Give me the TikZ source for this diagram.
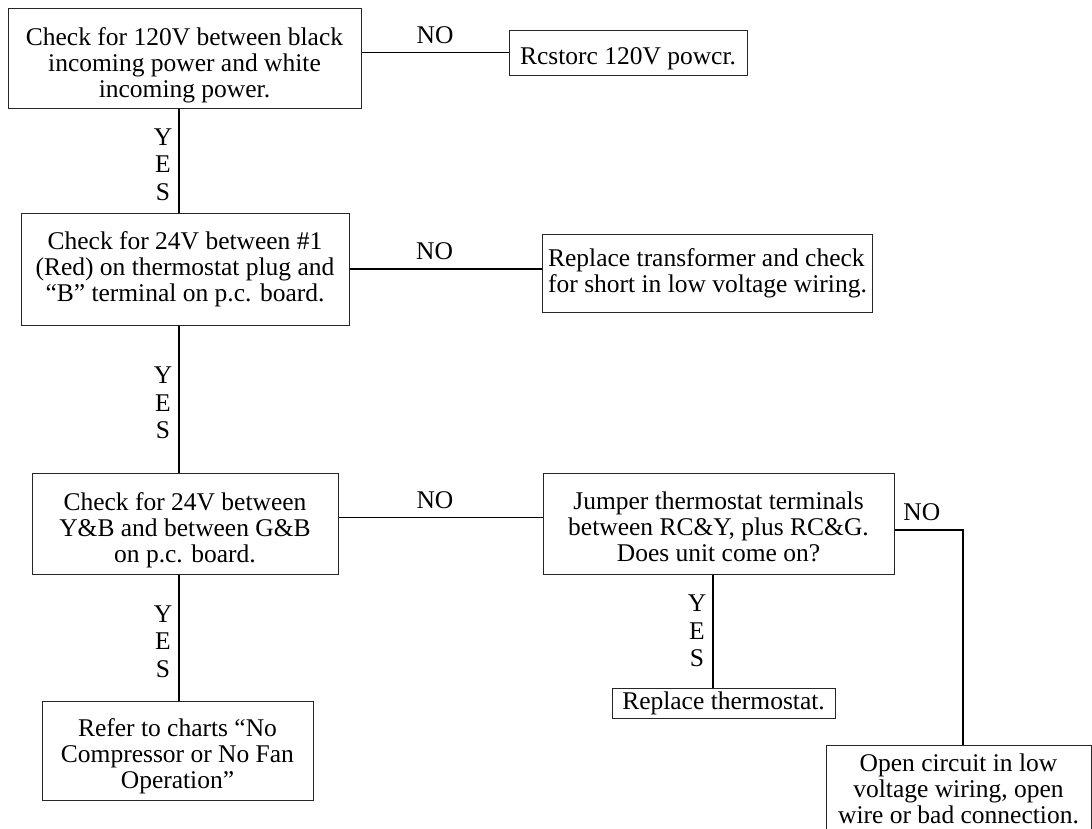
\documentclass[tikz,border=0pt]{standalone}
\usepackage{fontspec}
\setmainfont{Liberation Serif}
\usetikzlibrary{positioning,calc}

\newcommand{\dropline}[1]{\rule{0pt}{#1}}
\tikzset{
  box/.style={draw=black!85, line width=1pt, inner sep=0pt, align=center,
    font=\fontsize{25.5}{26}\selectfont},
  link/.style={line width=1.6pt},
  answer/.style={inner sep=0pt, font=\fontsize{25.5}{26}\selectfont},
  yes/.style={answer, align=center, anchor=east, xshift=-6pt,
    font=\fontsize{25.5}{27.5}\selectfont},
  no/.style={answer, anchor=south, yshift=8pt}
}

\begin{document}
\begin{tikzpicture}[x=1pt,y=-1pt]
  \useasboundingbox (0,0) rectangle (1092,828);
  \coordinate (spine) at (179,0);
  % left column of checks
  \node[box, minimum width=353pt, minimum height=100pt] (check120) at (184.5,58)
    {\dropline{33pt}Check for 120V between black\\incoming power and white\\incoming power.};
  \node[box, minimum width=328pt, minimum height=112pt] (check24a) at (185,269)
    {Check for 24V between \#1\\(Red) on thermostat plug and\\“B” terminal on p.c. board.};
  \node[box, minimum width=306pt, minimum height=101pt] (check24b) at (185,523.5)
    {\dropline{31pt}Check for 24V between\\Y\&B and between G\&B\\on p.c. board.};
  \node[box, minimum width=271pt, minimum height=99pt] (refer) at (177.5,750.5)
    {\dropline{29pt}Refer to charts “No\\Compressor or No Fan\\Operation”};
  % right column of actions
  \node[box, minimum width=238pt, minimum height=45pt] (restore) at (628,52.5)
    {\dropline{30pt}Rcstorc 120V powcr.};
  \node[box, inner xsep=6pt, minimum width=329pt, align=left, minimum height=78pt]
    (transformer) at (707.5,273)
    {Replace transformer and check\\for short in low voltage wiring.};
  \node[box, minimum width=351pt, minimum height=101pt] (jumper) at (718.5,523.5)
    {\dropline{25pt}Jumper thermostat terminals\\between RC\&Y, plus RC\&G.\\Does unit come on?};
  \node[box, minimum width=223pt, minimum height=30pt] (thermo) at (723.5,703)
    {Replace thermostat.};
  \node[box, minimum width=265pt, minimum height=88pt] (opencirc) at (958.5,789)
    {Open circuit in low\\voltage wiring, open\\wire or bad connection.};

  % connectors
  \draw[link] (check120.east |- restore.west) -- node[no]{NO} (restore.west);
  \draw[link] (check120.south -| spine) -- node[yes, yshift=-4pt]{Y\\E\\S} (check24a.north -| spine);
  \draw[link] (check24a.east) -- node[no, pos=0.443]{NO} (check24a.east -| transformer.west);
  \draw[link] (check24a.south -| spine) -- node[yes, yshift=-4pt]{Y\\E\\S} (check24b.north -| spine);
  \draw[link] ([yshift=6pt]check24b.east) -- node[no, pos=0.473]{NO} ([yshift=6pt]check24b.east -| jumper.west);
  \draw[link] (check24b.south -| spine) -- node[yes, yshift=-4pt]{Y\\E\\S} (refer.north -| spine);
  \draw[link] ([xshift=-5.5pt]jumper.south) -- node[yes]{Y\\E\\S} ([xshift=-5.5pt]jumper.south |- thermo.north);
  \draw[link] ([yshift=-6.5pt]jumper.east) -| node[no, pos=0.2]{NO} ([xshift=4.5pt]opencirc.north);
\end{tikzpicture}
\end{document}
